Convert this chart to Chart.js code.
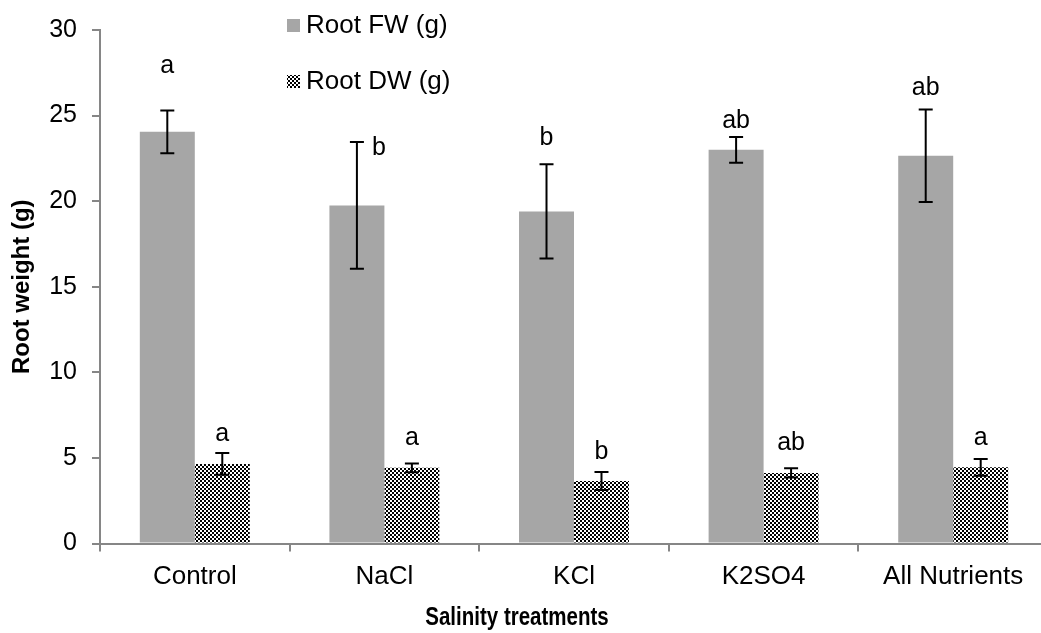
<!DOCTYPE html>
<html>
<head>
<meta charset="utf-8">
<script src="https://cdn.jsdelivr.net/npm/chart.js@4"></script>
<style>
  html, body { margin: 0; padding: 0; overflow: hidden; background: #fff; }
  #wrap { width: 1048px; height: 633px; }
</style>
</head>
<body>
<div id="wrap"><canvas id="graficoRaiz" width="1048" height="633"></canvas></div>
<script>
// dados
const categorias = ['Control', 'NaCl', 'KCl', 'K2SO4', 'All Nutrients'];
const raizFW = [24.05, 19.75, 19.4, 23.0, 22.65];
const erroFW = [1.25, 3.7, 2.75, 0.75, 2.7];
const raizDW = [4.65, 4.42, 3.65, 4.12, 4.45];
const erroDW = [0.64, 0.26, 0.53, 0.27, 0.49];
const letrasFW = ['a', 'b', 'b', 'ab', 'ab'];
const letrasDW = ['a', 'a', 'b', 'ab', 'a'];
const ticksY = [0, 5, 10, 15, 20, 25, 30];
const tituloX = 'Salinity treatments';

const fonte = "'Liberation Sans', Arial, sans-serif";
Chart.defaults.font.family = fonte;
Chart.defaults.color = '#000';

// padrão xadrez miúdo do Excel
function criarPadrao() {
  const c = document.createElement('canvas');
  c.width = 4; c.height = 4;
  const g = c.getContext('2d');
  g.fillStyle = '#fff';
  g.fillRect(0, 0, 4, 4);
  g.fillStyle = '#000';
  g.fillRect(0, 0, 2, 2);
  g.fillRect(2, 2, 2, 2);
  return g.createPattern(c, 'repeat');
}
const ctx = document.getElementById('graficoRaiz').getContext('2d');
const xadrez = criarPadrao();

const pluginErros = {
  id: 'erros',
  afterDatasetsDraw(chart, args, opts) {
    const c = chart.ctx;
    const y = chart.scales.y;
    chart.data.datasets.forEach((ds, di) => {
      const meta = chart.getDatasetMeta(di);
      meta.data.forEach((bar, i) => {
        const v = ds.data[i], e = ds.erros[i];
        const yTop = y.getPixelForValue(v + e);
        const yBot = y.getPixelForValue(v - e);
        const x = bar.x;
        c.save();
        c.strokeStyle = '#000';
        c.lineWidth = 2;
        c.beginPath();
        c.moveTo(x, yTop); c.lineTo(x, yBot);
        c.moveTo(x - 7, yTop); c.lineTo(x + 7, yTop);
        c.moveTo(x - 7, yBot); c.lineTo(x + 7, yBot);
        c.stroke();
        // letras de significância
        const ajuste = opts.ajustes[di][i];
        c.fillStyle = '#000';
        c.font = '25px ' + fonte;
        c.textAlign = 'center';
        c.textBaseline = 'middle';
        c.fillText(ds.letras[i], x + ajuste[0], yTop - 22 + ajuste[1]);
        c.restore();
      });
    });
  }
};

const pluginLegenda = {
  id: 'legendaManual',
  afterDraw(chart, args, opts) {
    const c = chart.ctx;
    c.save();
    c.font = '26px ' + fonte;
    c.textBaseline = 'middle';
    c.textAlign = 'left';
    chart.data.datasets.forEach((ds, i) => {
      const yy = opts.y + i * opts.espaco;
      c.fillStyle = ds.backgroundColor;
      c.fillRect(opts.x, yy - 6, 13, 13);
      c.fillStyle = '#000';
      c.fillText(ds.label, opts.x + 19, yy + 1);
    });
    // título do eixo x (mais estreito, como no original)
    c.font = 'bold 25px ' + fonte;
    c.textAlign = 'center';
    c.translate(opts.tituloX, opts.tituloY);
    c.scale(0.82, 1);
    c.fillText(tituloX, 0, 0);
    c.restore();
  }
};

new Chart(ctx, {
  type: 'bar',
  data: {
    labels: categorias,
    datasets: [
      {
        label: 'Root FW (g)',
        data: raizFW,
        erros: erroFW,
        letras: letrasFW,
        backgroundColor: '#a6a6a6',
        categoryPercentage: 0.58,
        barPercentage: 1
      },
      {
        label: 'Root DW (g)',
        data: raizDW,
        erros: erroDW,
        letras: letrasDW,
        backgroundColor: xadrez,
        categoryPercentage: 0.58,
        barPercentage: 1
      }
    ]
  },
  options: {
    responsive: false,
    animation: false,
    layout: { padding: { top: 22, left: 0, right: 0, bottom: 0 } },
    plugins: {
      legend: { display: false },
      tooltip: { enabled: false },
      erros: {
        ajustes: [
          [[0, -22], [22, 28], [0, -4], [0, 6], [0, 1]],
          [[0, 3], [0, -3], [0, 2], [0, -3], [0, 1]]
        ]
      },
      legendaManual: { x: 287, y: 25, espaco: 56, tituloX: 517, tituloY: 618 }
    },
    scales: {
      x: {
        offset: true,
        grid: { offset: true, drawOnChartArea: false, tickLength: 8, color: '#868686', lineWidth: 2 },
        border: { color: '#868686', width: 2 },
        ticks: { font: { size: 26 }, padding: 10, color: '#000' },
        afterFit: s => { s.height = 89.5; }
      },
      y: {
        min: 0,
        max: 30,
        afterBuildTicks: s => { s.ticks = ticksY.map(v => ({ value: v })); },
        grid: { drawOnChartArea: false, tickLength: 8, color: '#868686', lineWidth: 2 },
        border: { color: '#868686', width: 2 },
        ticks: { font: { size: 25 }, padding: 15, color: '#000' },
        title: {
          display: true,
          text: 'Root weight (g)',
          font: { size: 24, weight: 'bold' },
          color: '#000',
          padding: { top: 8, bottom: 0 }
        },
        afterFit: s => { s.width = 100; }
      }
    }
  },
  plugins: [pluginErros, pluginLegenda]
});
</script>
</body>
</html>
